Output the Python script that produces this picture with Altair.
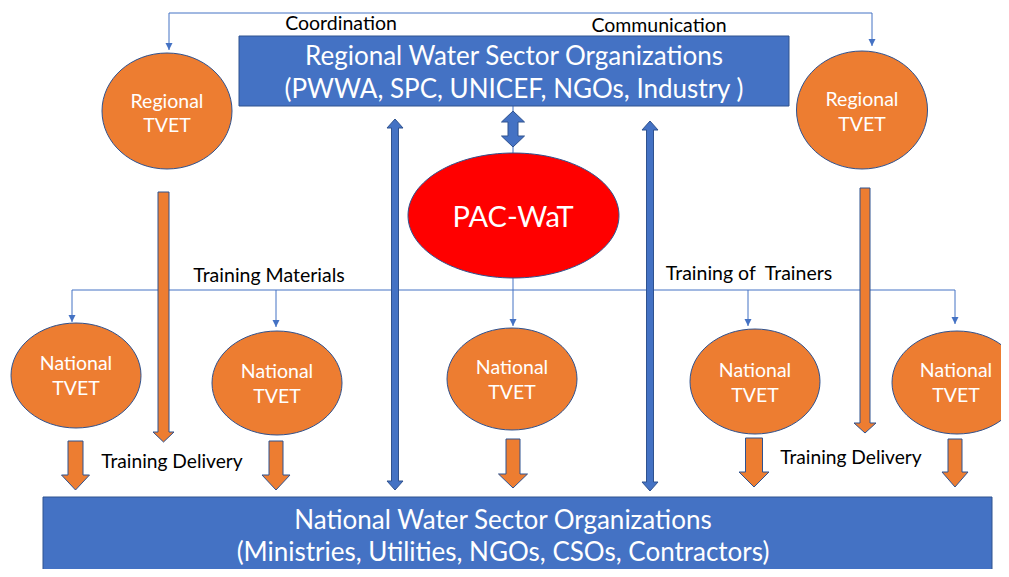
import altair as alt
import pandas as pd

ORANGE = "#ED7D31"
BLUE = "#4472C4"
DARK = "#2F528F"
RED = "#FF0000"
FONT = "Lato"

# ---------------- rectangles (organisation boxes) ----------------
box_name = ["Regional Water Sector Organizations", "National Water Sector Organizations"]
box_x1 = [239, 43]
box_x2 = [789, 992]
box_y1 = [36, 497]
box_y2 = [106, 600]

# ---------------- ellipses ----------------
ell_name = ["Regional TVET L", "Regional TVET R", "PAC-WaT", "National TVET 1",
            "National TVET 2", "National TVET 3", "National TVET 4", "National TVET 5"]
ell_cx = [167, 862, 513.5, 76, 277, 512, 755, 957]
ell_cy = [111, 110, 215.5, 375.5, 383, 379, 381.5, 382.5]
ell_w = [130, 131, 211, 130, 130, 130, 130, 130]
ell_h = [116, 118, 125, 105, 104, 102, 105, 103]
ell_fill = [ORANGE, ORANGE, RED, ORANGE, ORANGE, ORANGE, ORANGE, ORANGE]

# ---------------- thin connector lines ----------------
line_x1 = [169, 169, 872, 513, 72, 72, 276, 748, 955]
line_y1 = [13, 13, 13, 106, 290, 290, 290, 290, 290]
line_x2 = [872, 169, 872, 513, 955, 72, 276, 748, 955]
line_y2 = [13, 50, 46, 326, 290, 322, 327, 326, 324]

# small arrow heads at the connector tips
tip_x = [169, 872, 513, 72, 276, 748, 955]
tip_y = [50, 46, 326, 322, 327, 326, 324]

# ---------------- block arrows ----------------
ba_x = [163.5, 865, 75.5, 276, 513, 754, 955, 513, 395, 650]
ba_top = [192, 188, 441, 441, 439, 438, 439, 111, 119, 121]
ba_bot = [442, 433, 490, 490, 488, 487, 487, 147, 490, 491]
ba_shaft = [11, 10, 15, 14, 14, 17, 14, 10, 7, 7]
ba_head = [21, 22, 28, 28, 29, 30, 26, 23, 16, 16]
ba_headlen = [10, 10, 15, 15, 14, 15, 15, 11, 9, 9]
ba_kind = ["down"] * 7 + ["both"] * 3
ba_fill = [ORANGE] * 7 + [BLUE] * 3

# ---------------- texts ----------------
txt = ["Coordination", "Communication",
       "Regional Water Sector Organizations", "(PWWA, SPC, UNICEF, NGOs, Industry )",
       "Regional", "TVET", "Regional", "TVET", "PAC-WaT",
       "National", "TVET", "National", "TVET", "National", "TVET",
       "National", "TVET", "National", "TVET",
       "Training Materials", "Training of\u00a0 Trainers",
       "Training Delivery", "Training Delivery",
       "National Water Sector Organizations",
       "(Ministries, Utilities, NGOs, CSOs, Contractors)"]
txt_x = [341, 659, 514, 514, 167, 167, 862, 862, 513,
         76, 76, 277, 277, 512, 512, 755, 755, 956, 956,
         269, 749, 172, 851, 503, 503]
txt_y = [30, 32, 65, 98, 108, 132, 106, 131, 227,
         370, 395, 378, 403, 374, 399, 377, 402, 377, 402,
         282, 280, 468, 464, 529, 561]
txt_size = [19.5, 19.5, 26, 26, 19.5, 19.5, 19.5, 19.5, 29,
            19.5, 19.5, 19.5, 19.5, 19.5, 19.5, 19.5, 19.5, 19.5, 19.5,
            19.5, 19.5, 19.2, 19.2, 26, 26]
txt_color = ["black", "black", "white", "white", "white", "white", "white", "white", "white",
             "white", "white", "white", "white", "white", "white", "white", "white", "white", "white",
             "black", "black", "black", "black", "white", "white"]


def f(v):
    return f"{v:.2f}".rstrip("0").rstrip(".")


def ellipse_path(w, h):
    a, b = w / 2, h / 2
    return f"M{f(-a)},0A{f(a)},{f(b)} 0 1,0 {f(a)},0A{f(a)},{f(b)} 0 1,0 {f(-a)},0Z"


def arrow_path(kind, length, shaft, head, hl):
    t = length / 2
    s, h = shaft / 2, head / 2
    hb = t - hl
    if kind == "down":
        pts = [(-s, -t), (s, -t), (s, hb), (h, hb), (0, t), (-h, hb), (-s, hb)]
    else:
        pts = [(0, -t), (h, -hb), (s, -hb), (s, hb), (h, hb), (0, t),
               (-h, hb), (-s, hb), (-s, -hb), (-h, -hb)]
    return "M" + "L".join(f"{f(x)},{f(y)}" for x, y in pts) + "Z"


xs = alt.Scale(domain=[8, 1001], nice=False, zero=False)
ys = alt.Scale(domain=[8, 569], nice=False, zero=False, reverse=True)

boxes = pd.DataFrame({"name": box_name, "x": box_x1, "x2": box_x2, "y": box_y1, "y2": box_y2})
ells = pd.DataFrame({"name": ell_name, "x": ell_cx, "y": ell_cy, "fill": ell_fill,
                     "shape": [ellipse_path(w, h) for w, h in zip(ell_w, ell_h)]})
lines = pd.DataFrame({"x": line_x1, "y": line_y1, "x2": line_x2, "y2": line_y2})
tips = pd.DataFrame({"x": tip_x, "y": tip_y})
arrows = pd.DataFrame({
    "x": ba_x,
    "y": [(a + b) / 2 for a, b in zip(ba_top, ba_bot)],
    "fill": ba_fill,
    "shape": [arrow_path(k, b - a, s, h, l) for k, a, b, s, h, l in
              zip(ba_kind, ba_top, ba_bot, ba_shaft, ba_head, ba_headlen)],
})
texts = pd.DataFrame({"text": txt, "x": txt_x, "y": txt_y, "size": txt_size, "color": txt_color})

X = lambda: alt.X("x:Q", scale=xs, axis=None)
Y = lambda: alt.Y("y:Q", scale=ys, axis=None)

line_layer = alt.Chart(lines).mark_rule(color=BLUE, strokeWidth=1, clip=True).encode(
    x=X(), y=Y(), x2="x2:Q", y2="y2:Q")

tip_layer = alt.Chart(tips).mark_point(filled=True, opacity=1, fill=BLUE, strokeWidth=0,
                                       shape="M-3.5,-7L3.5,-7L0,0Z", size=4, clip=True).encode(
    x=X(), y=Y())

box_layer = alt.Chart(boxes).mark_rect(fill=BLUE, stroke=DARK, strokeWidth=1, clip=True).encode(
    x=X(), x2="x2:Q", y=Y(), y2="y2:Q")

ell_layer = alt.Chart(ells).mark_point(filled=True, opacity=1, stroke=DARK, strokeWidth=1,
                                       strokeOpacity=1, size=4, clip=True).encode(
    x=X(), y=Y(),
    fill=alt.Fill("fill:N", scale=None),
    shape=alt.Shape("shape:N", scale=None))

arrow_layer = alt.Chart(arrows).mark_point(filled=True, opacity=1, stroke=DARK, strokeWidth=1,
                                           strokeOpacity=1, size=4, clip=True).encode(
    x=X(), y=Y(),
    fill=alt.Fill("fill:N", scale=None),
    shape=alt.Shape("shape:N", scale=None))

text_layer = alt.Chart(texts).mark_text(font=FONT, align="center", baseline="alphabetic",
                                        clip=True).encode(
    x=X(), y=Y(), text="text:N",
    size=alt.Size("size:Q", scale=None),
    color=alt.Color("color:N", scale=None))

chart = alt.layer(line_layer, box_layer, ell_layer, arrow_layer, tip_layer, text_layer).properties(
    width=993, height=561, padding=0, background="white",
    autosize=alt.AutoSizeParams(type="none"),
).configure_view(stroke=None)

chart.save("out.html", embed_options={"renderer": "svg", "actions": False})
